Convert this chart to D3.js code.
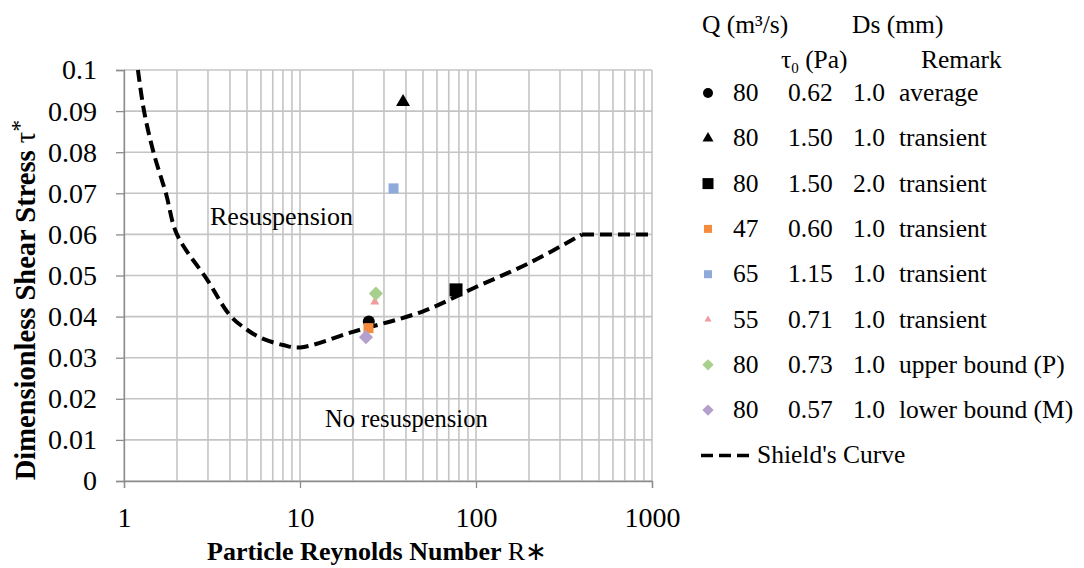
<!DOCTYPE html>
<html>
<head>
<meta charset="utf-8">
<script src="https://cdn.jsdelivr.net/npm/d3@7"></script>
<style>
    body { margin: 0; background: #fff; }
    svg text { font-family: "Liberation Serif", "Times New Roman", serif; fill: #000; }
</style>
</head>
<body>
<script>
// Shield's curve
const shieldRe = [1.2, 1.3, 1.47, 1.73, 2, 3, 4, 5, 6, 8, 10, 20, 50, 100, 200, 400, 1000];
const shieldTau = [0.1, 0.09, 0.08, 0.07, 0.06, 0.0487, 0.0403, 0.0368, 0.0348, 0.0331, 0.0325, 0.0363, 0.0413, 0.0472, 0.0530, 0.06, 0.06];

// measured points
const pointRe = [24.6, 38.5, 77, 24.5, 34, 26.6, 27, 23.7];
const pointTau = [0.0388, 0.0922, 0.0465, 0.0372, 0.0712, 0.0436, 0.0456, 0.0350];
const pointShape = ["circle", "triangle", "square", "square", "square", "triangle", "diamond", "diamond"];
const pointColor = ["#000000", "#000000", "#000000", "#F58B3C", "#8EAADB", "#EE9C9C", "#A8D08D", "#B4A0CC"];
const pointSize = [12, 14, 13, 10, 10, 9, 10, 10];

// legend table
const legendQ = ["80", "80", "80", "47", "65", "55", "80", "80"];
const legendTau0 = ["0.62", "1.50", "1.50", "0.60", "1.15", "0.71", "0.73", "0.57"];
const legendDs = ["1.0", "1.0", "2.0", "1.0", "1.0", "1.0", "1.0", "1.0"];
const legendRemark = ["average", "transient", "transient", "transient", "transient", "transient", "upper bound (P)", "lower bound (M)"];
const legendMarkSize = [10, 11, 11, 8, 8, 7, 8, 8];

const xTicks = [1, 10, 100, 1000];
const yTicks = d3.range(0, 0.1001, 0.01);

const W = 1084, H = 568;
const plot = { left: 124, right: 652, top: 70, bottom: 481 };

const svg = d3.select("body").append("svg").attr("width", W).attr("height", H);

const x = d3.scaleLog().domain([1, 1000]).range([plot.left, plot.right]);
const y = d3.scaleLinear().domain([0, 0.1]).range([plot.bottom, plot.top]);

// ^ GRID ^ //
const minorX = [];
for (let d = 1; d < 1000; d *= 10) {
    for (let k = 1; k <= 9; k++) minorX.push(d * k);
}
minorX.push(1000);

const grid = svg.append("g").attr("stroke", "#c4c4c4").attr("stroke-width", 1.6);
grid.selectAll("line.vx")
    .data(minorX)
    .enter()
    .append("line")
    .attr("x1", (d) => x(d)).attr("x2", (d) => x(d))
    .attr("y1", plot.top).attr("y2", plot.bottom);
grid.selectAll("line.hy")
    .data(yTicks)
    .enter()
    .append("line")
    .attr("x1", plot.left).attr("x2", plot.right)
    .attr("y1", (d) => y(d)).attr("y2", (d) => y(d));

// ^ AXES ^ //
const xAxis = svg.append("g")
    .attr("transform", `translate(0,${plot.bottom})`)
    .call(d3.axisBottom(x).tickValues(xTicks).tickSize(7).tickFormat((d) => d));
xAxis.select(".domain").attr("stroke", "#8c8c8c").attr("stroke-width", 1.3);
xAxis.selectAll(".tick line").attr("stroke", "#8c8c8c").attr("stroke-width", 1.3);
xAxis.selectAll("text").attr("font-size", 28).attr("y", 46).attr("dy", null).attr("fill", "#000");

const yAxis = svg.append("g")
    .attr("transform", `translate(${plot.left},0)`)
    .call(d3.axisLeft(y).tickValues(yTicks).tickSize(8).tickPadding(19).tickFormat((d) => (d === 0 ? "0" : d3.format(".2~f")(d))));
yAxis.select(".domain").attr("stroke", "#8c8c8c").attr("stroke-width", 1.3);
yAxis.selectAll(".tick line").attr("stroke", "#8c8c8c").attr("stroke-width", 1.3);
yAxis.selectAll("text").attr("font-size", 28).attr("fill", "#000");

// ^ AXIS TITLES ^ //
const xTitle = svg.append("text").attr("x", 207).attr("y", 560).attr("font-size", 26);
xTitle.append("tspan").attr("font-weight", "bold").text("Particle Reynolds Number  ");
xTitle.append("tspan").text("R\u2217");

const yTitle = svg.append("text")
    .attr("transform", "translate(35,300) rotate(-90)")
    .attr("text-anchor", "middle")
    .attr("font-size", 28.5);
yTitle.append("tspan").attr("font-weight", "bold").text("Dimensionless Shear Stress ");
yTitle.append("tspan").text("\u03C4");
yTitle.append("tspan").attr("font-size", 24).attr("dy", -8).text("*");

// ^ REGION LABELS ^ //
svg.append("text").attr("x", 210).attr("y", 225).attr("font-size", 26).text("Resuspension");
svg.append("text").attr("x", 325).attr("y", 427).attr("font-size", 24.5).text("No resuspension");

// ^ SHIELD'S CURVE ^ //
// smooth part up to the knee at 400, then the flat tail
const shieldData = shieldRe.map((r, i) => [r, shieldTau[i]]);
const shieldLine = d3.line().x((d) => x(d[0])).y((d) => y(d[1]));
const curveGroup = svg.append("g")
    .attr("fill", "none")
    .attr("stroke", "#000")
    .attr("stroke-width", 4)
    .attr("stroke-dasharray", "12,6");
curveGroup.append("path")
    .datum(shieldData.filter((d) => d[0] <= 400))
    .attr("d", shieldLine.curve(d3.curveCatmullRom.alpha(0.5)));
curveGroup.append("path")
    .datum(shieldData.filter((d) => d[0] >= 400))
    .attr("d", shieldLine.curve(d3.curveLinear));

// ^ MARKERS ^ //
const markerPath = (shape, s) => {
    if (shape === "circle") return d3.symbol(d3.symbolCircle, Math.PI * (s / 2) * (s / 2))();
    if (shape === "triangle") return d3.symbol(d3.symbolTriangle, (s * s * Math.sqrt(3)) / 4)();
    return d3.symbol(d3.symbolSquare, s * s)();
};

svg.append("g")
    .selectAll("path")
    .data(pointRe.map((r, i) => i))
    .enter()
    .append("path")
    .attr("d", (i) => markerPath(pointShape[i], pointSize[i]))
    .attr("fill", (i) => pointColor[i])
    .attr("transform", (i) => `translate(${x(pointRe[i])},${y(pointTau[i])})` + (pointShape[i] === "diamond" ? " rotate(45)" : ""));

// ^ LEGEND ^ //
const legend = svg.append("g").attr("font-size", 25.5);
legend.append("text").attr("x", 702).attr("y", 33).text("Q (m\u00B3/s)");
legend.append("text").attr("x", 852).attr("y", 33).text("Ds (mm)");
const tauHead = legend.append("text").attr("x", 781).attr("y", 68);
tauHead.append("tspan").text("\u03C4");
tauHead.append("tspan").attr("font-size", 15).attr("dy", 5).text("0");
tauHead.append("tspan").attr("dy", -5).text(" (Pa)");
legend.append("text").attr("x", 921).attr("y", 68).text("Remark");

const rowY = (i) => 93 + i * 45.3;
const rows = legend.selectAll("g.row")
    .data(legendQ.map((q, i) => i))
    .enter()
    .append("g")
    .attr("transform", (i) => `translate(0,${rowY(i)})`);

rows.append("path")
    .attr("d", (i) => markerPath(pointShape[i], legendMarkSize[i]))
    .attr("fill", (i) => pointColor[i])
    .attr("transform", (i) => "translate(708,0)" + (pointShape[i] === "diamond" ? " rotate(45)" : ""));
rows.append("text").attr("x", 733).attr("y", 8).text((i) => legendQ[i]);
rows.append("text").attr("x", 788).attr("y", 8).text((i) => legendTau0[i]);
rows.append("text").attr("x", 853).attr("y", 8).text((i) => legendDs[i]);
rows.append("text").attr("x", 899).attr("y", 8).text((i) => legendRemark[i]);

const shieldY = rowY(8);
legend.append("line")
    .attr("x1", 701).attr("x2", 752)
    .attr("y1", shieldY).attr("y2", shieldY)
    .attr("stroke", "#000").attr("stroke-width", 3.5).attr("stroke-dasharray", "12,6");
legend.append("text").attr("x", 757).attr("y", shieldY + 8).text("Shield's Curve");
</script>
</body>
</html>
